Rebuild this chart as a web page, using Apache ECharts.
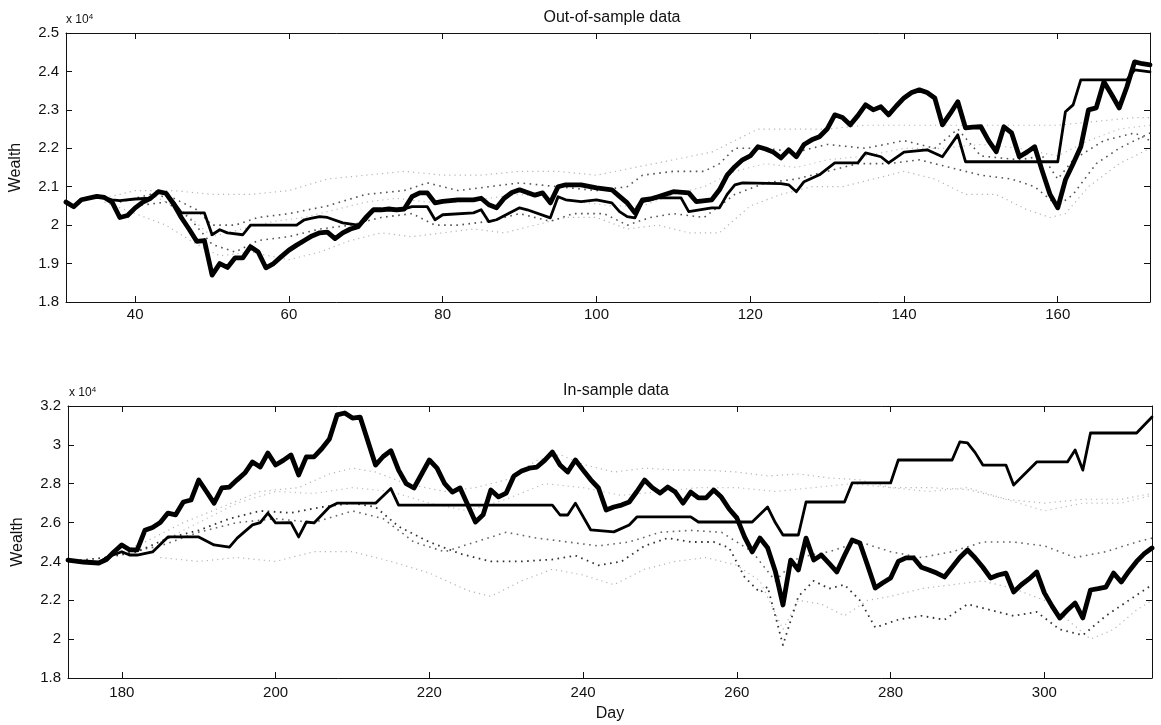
<!DOCTYPE html>
<html><head><meta charset="utf-8">
<script src="https://cdn.jsdelivr.net/npm/echarts@6/dist/echarts.min.js"></script>
<style>html,body{margin:0;padding:0;background:#fff}#c{width:1161px;height:725px}</style>
</head><body><div id="c"></div>
<script>
// Wealth in units of 10^4
const outTicks = [40, 60, 80, 100, 120, 140, 160];
const inTicks = [180, 200, 220, 240, 260, 280, 300];

const outThick = [[31,2.06],[32,2.048],[33,2.066],[35,2.075],[36,2.072],[37,2.06],[38,2.02],[39,2.025],[40,2.045],[41,2.06],[42,2.07],[43,2.087],[44,2.083],[45,2.055],[46,2.02],[47,1.99],[48,1.958],[49,1.96],[50,1.87],[51,1.9],[52,1.89],[53,1.915],[54,1.915],[55,1.944],[56,1.93],[57,1.889],[58,1.90],[59,1.918],[60,1.935],[61,1.948],[62,1.96],[63,1.972],[64,1.98],[65,1.982],[66,1.965],[67,1.98],[68,1.99],[69,1.996],[70,2.02],[71,2.04],[72,2.04],[73,2.042],[74,2.04],[75,2.042],[76,2.074],[77,2.084],[78,2.084],[79,2.058],[80,2.062],[82,2.066],[84,2.066],[85,2.07],[86,2.053],[87,2.045],[88,2.07],[89,2.085],[90,2.092],[91,2.085],[92,2.078],[93,2.084],[94,2.058],[95,2.1],[96,2.105],[98,2.105],[100,2.097],[102,2.092],[103,2.075],[104,2.058],[105,2.032],[106,2.066],[107,2.068],[108,2.074],[110,2.087],[112,2.084],[113,2.061],[115,2.066],[116,2.092],[117,2.13],[118,2.152],[119,2.17],[120,2.18],[121,2.204],[122,2.198],[123,2.19],[124,2.175],[125,2.196],[126,2.178],[127,2.21],[128,2.222],[129,2.23],[130,2.25],[131,2.287],[132,2.28],[133,2.261],[134,2.285],[135,2.313],[136,2.30],[137,2.308],[138,2.287],[139,2.31],[140,2.331],[141,2.345],[142,2.352],[143,2.345],[144,2.331],[145,2.261],[146,2.29],[147,2.321],[148,2.253],[149,2.255],[150,2.256],[151,2.22],[152,2.191],[153,2.256],[154,2.24],[155,2.178],[156,2.19],[157,2.204],[158,2.14],[159,2.08],[160,2.045],[161,2.118],[162,2.16],[163,2.204],[164,2.30],[165,2.305],[166,2.373],[167,2.34],[168,2.305],[169,2.36],[170,2.425],[171,2.42],[172,2.417]];

const outMedium = [[31,2.06],[32,2.048],[33,2.066],[35,2.075],[37,2.066],[38,2.064],[40,2.068],[42,2.07],[43,2.087],[44,2.083],[45,2.06],[46,2.032],[49,2.032],[50,1.975],[51,1.988],[52,1.98],[54,1.975],[55,2.0],[61,2.0],[62,2.014],[63,2.018],[64,2.022],[65,2.02],[67,2.006],[69,2.0],[70,2.014],[71,2.04],[75,2.042],[76,2.048],[78,2.048],[79,2.014],[80,2.027],[84,2.032],[85,2.04],[86,2.009],[87,2.014],[90,2.045],[91,2.04],[94,2.019],[95,2.074],[96,2.066],[98,2.061],[100,2.066],[102,2.058],[103,2.035],[104,2.022],[105,2.019],[106,2.061],[108,2.071],[111,2.071],[112,2.035],[115,2.045],[116,2.045],[117,2.08],[118,2.105],[119,2.11],[124,2.108],[125,2.105],[126,2.087],[127,2.113],[129,2.131],[131,2.162],[134,2.162],[135,2.188],[137,2.178],[138,2.162],[140,2.19],[143,2.196],[145,2.178],[147,2.235],[148,2.165],[160,2.165],[161,2.295],[162,2.313],[163,2.378],[169,2.378],[170,2.404],[172,2.399]];

const outDotA = [[36,2.07],[40,2.09],[45,2.09],[50,2.08],[55,2.08],[60,2.09],[65,2.12],[70,2.13],[75,2.14],[80,2.13],[85,2.13],[90,2.14],[95,2.14],[100,2.13],[105,2.15],[110,2.17],[115,2.19],[118,2.22],[121,2.25],[125,2.25],[130,2.25],[135,2.26],[140,2.26],[145,2.26],[150,2.26],[155,2.26],[160,2.26],[165,2.27],[170,2.28],[172,2.28]];
const outDotB = [[38,2.06],[42,2.08],[45,2.07],[48,2.04],[50,2.0],[53,2.0],[56,2.02],[60,2.03],[65,2.05],[70,2.08],[75,2.09],[78,2.11],[82,2.09],[86,2.1],[90,2.11],[95,2.1],[100,2.09],[104,2.1],[106,2.13],[110,2.14],[114,2.14],[116,2.16],[118,2.2],[122,2.2],[126,2.19],[130,2.21],[135,2.2],[140,2.22],[144,2.2],[147,2.25],[150,2.18],[155,2.17],[158,2.18],[160,2.12],[162,2.17],[166,2.22],[170,2.24],[172,2.22]];
const outDotC = [[36,2.06],[40,2.03],[44,2.0],[48,1.95],[51,1.92],[55,1.93],[60,1.91],[64,1.93],[68,1.96],[72,1.98],[76,1.97],[80,1.98],[84,1.99],[88,1.98],[92,2.0],[96,2.02],[100,2.02],[104,1.99],[108,2.0],[112,1.98],[116,1.98],[120,2.05],[124,2.08],[128,2.1],[132,2.1],[136,2.12],[140,2.14],[144,2.12],[148,2.08],[152,2.08],[156,2.04],[159,2.02],[161,2.03],[164,2.1],[168,2.16],[172,2.2]];
const outDotD = [[40,2.05],[44,2.06],[47,2.02],[50,1.95],[53,1.93],[56,1.96],[60,1.97],[64,1.99],[68,2.0],[72,2.02],[76,2.03],[79,2.0],[82,2.0],[86,2.01],[90,2.03],[94,2.01],[97,2.03],[101,2.03],[104,2.0],[107,2.02],[110,2.03],[114,2.02],[118,2.08],[122,2.11],[126,2.12],[130,2.14],[134,2.16],[138,2.16],[142,2.17],[146,2.15],[150,2.13],[154,2.12],[157,2.1],[160,2.05],[162,2.08],[165,2.16],[168,2.2],[172,2.24]];
const outDotE = [[42,2.08],[46,2.04],[50,1.97],[54,1.99],[58,2.01],[62,2.02],[66,2.04],[70,2.06],[74,2.07],[78,2.06],[82,2.06],[86,2.07],[90,2.08],[94,2.07],[98,2.06],[102,2.05],[106,2.05],[110,2.08],[114,2.1],[118,2.14],[122,2.16],[126,2.15],[130,2.17],[135,2.18],[140,2.2],[145,2.2],[150,2.21],[155,2.2],[160,2.18],[164,2.22],[168,2.25],[172,2.26]];

const inThick = [[173,2.407],[175,2.397],[177,2.392],[178,2.41],[179,2.45],[180,2.485],[181,2.46],[182,2.459],[183,2.56],[184,2.575],[185,2.6],[186,2.649],[187,2.64],[188,2.706],[189,2.716],[190,2.819],[191,2.76],[192,2.70],[193,2.778],[194,2.783],[195,2.82],[196,2.855],[197,2.912],[198,2.886],[199,2.958],[200,2.896],[201,2.92],[202,2.948],[203,2.845],[204,2.938],[205,2.938],[206,2.98],[207,3.03],[208,3.154],[209,3.164],[210,3.138],[211,3.143],[212,3.02],[213,2.896],[214,2.94],[215,2.97],[216,2.87],[217,2.80],[218,2.778],[219,2.85],[220,2.922],[221,2.88],[222,2.8],[223,2.757],[224,2.778],[225,2.69],[226,2.603],[227,2.64],[228,2.768],[229,2.732],[230,2.752],[231,2.84],[232,2.865],[233,2.88],[234,2.886],[235,2.92],[236,2.963],[237,2.896],[238,2.86],[239,2.922],[240,2.87],[241,2.82],[242,2.778],[243,2.665],[244,2.68],[245,2.69],[246,2.706],[247,2.76],[248,2.819],[249,2.78],[250,2.752],[251,2.783],[252,2.757],[253,2.70],[254,2.757],[255,2.727],[256,2.727],[257,2.768],[258,2.73],[259,2.67],[260,2.624],[261,2.526],[262,2.449],[263,2.52],[264,2.47],[265,2.35],[266,2.176],[267,2.407],[268,2.356],[269,2.52],[270,2.407],[271,2.433],[272,2.39],[273,2.346],[274,2.43],[275,2.51],[276,2.495],[277,2.38],[278,2.263],[279,2.29],[280,2.315],[281,2.4],[282,2.418],[283,2.418],[284,2.37],[285,2.356],[286,2.34],[287,2.32],[288,2.37],[289,2.42],[290,2.459],[291,2.418],[292,2.37],[293,2.315],[294,2.33],[295,2.34],[296,2.243],[297,2.28],[298,2.31],[299,2.346],[300,2.238],[301,2.17],[302,2.109],[303,2.15],[304,2.186],[305,2.109],[306,2.253],[307,2.26],[308,2.268],[309,2.34],[310,2.294],[311,2.35],[312,2.4],[313,2.44],[314,2.469]];

const inMedium = [[173,2.407],[175,2.397],[177,2.392],[178,2.42],[180,2.45],[181,2.433],[182,2.433],[184,2.449],[186,2.526],[190,2.526],[192,2.485],[194,2.474],[195,2.52],[197,2.588],[198,2.6],[199,2.649],[200,2.598],[202,2.6],[203,2.526],[204,2.603],[205,2.598],[207,2.68],[208,2.70],[213,2.70],[215,2.775],[216,2.69],[236,2.69],[237,2.639],[238,2.639],[239,2.70],[241,2.562],[244,2.552],[246,2.588],[247,2.629],[254,2.629],[255,2.603],[262,2.603],[264,2.68],[265,2.6],[266,2.536],[268,2.536],[269,2.706],[274,2.706],[275,2.804],[280,2.804],[281,2.922],[288,2.922],[289,3.015],[290,3.01],[291,2.96],[292,2.896],[295,2.896],[296,2.793],[299,2.912],[303,2.912],[304,2.974],[305,2.87],[306,3.061],[312,3.061],[314,3.143]];

const inDotA = [[173,2.40],[178,2.42],[182,2.45],[186,2.52],[190,2.56],[194,2.62],[198,2.66],[202,2.65],[206,2.68],[210,2.7],[213,2.68],[216,2.58],[220,2.5],[224,2.44],[228,2.40],[232,2.40],[236,2.41],[239,2.43],[242,2.38],[245,2.40],[248,2.48],[251,2.52],[254,2.50],[257,2.50],[259,2.47],[261,2.32],[263,2.24],[264,2.27],[266,1.97],[268,2.22],[270,2.30],[272,2.26],[274,2.28],[276,2.2],[278,2.06],[281,2.1],[284,2.12],[287,2.1],[290,2.18],[293,2.15],[296,2.12],[299,2.14],[302,2.05],[305,2.02],[308,2.12],[311,2.2],[314,2.28]];
const inDotB = [[178,2.42],[183,2.5],[188,2.6],[193,2.68],[198,2.76],[203,2.78],[207,2.85],[210,2.88],[213,2.86],[217,2.8],[222,2.76],[226,2.78],[230,2.82],[234,2.92],[237,2.95],[240,2.9],[244,2.86],[248,2.88],[252,2.87],[256,2.87],[260,2.86],[264,2.84],[268,2.85],[272,2.83],[276,2.82],[280,2.78],[285,2.78],[290,2.77],[295,2.72],[300,2.7],[305,2.72],[310,2.72],[314,2.75]];
const inDotC = [[185,2.5],[190,2.6],[195,2.7],[200,2.76],[205,2.75],[210,2.78],[215,2.76],[220,2.7],[225,2.66],[230,2.72],[235,2.8],[240,2.78],[245,2.74],[250,2.76],[255,2.78],[260,2.78],[265,2.76],[270,2.78],[275,2.8],[280,2.78],[285,2.76],[290,2.78],[295,2.72],[300,2.66],[305,2.7],[310,2.7],[314,2.74]];
const inDotD = [[180,2.44],[185,2.48],[190,2.55],[195,2.6],[200,2.62],[205,2.6],[210,2.66],[214,2.62],[218,2.5],[222,2.45],[226,2.5],[230,2.55],[234,2.52],[238,2.5],[242,2.48],[246,2.5],[250,2.55],[254,2.56],[258,2.55],[262,2.45],[265,2.3],[268,2.42],[272,2.45],[276,2.5],[280,2.45],[284,2.42],[288,2.45],[292,2.5],[296,2.5],[300,2.48],[304,2.42],[308,2.45],[312,2.5],[314,2.52]];
const inDotE = [[185,2.42],[190,2.4],[195,2.42],[200,2.4],[205,2.45],[210,2.45],[215,2.4],[220,2.34],[225,2.25],[228,2.22],[232,2.3],[236,2.36],[240,2.33],[244,2.28],[248,2.36],[252,2.4],[256,2.42],[260,2.38],[263,2.3],[266,2.05],[268,2.2],[271,2.18],[274,2.12],[277,2.2],[280,2.22],[284,2.26],[288,2.28],[292,2.3],[296,2.26],[300,2.2],[303,2.1],[306,2.0],[309,2.05],[312,2.15],[314,2.2]];

const FONT = 'Liberation Sans';
const chart = echarts.init(document.getElementById('c'));
const txt = {color:'#111', fontFamily:FONT, fontSize:15};
function fmt(v){ return String(+(+v).toFixed(1)); }
function xAx(grid, min, max, ticks, pos, show){
  return {type:'value', gridIndex:grid, position:pos, min:min, max:max,
    axisLine:{show:true, onZero:false, lineStyle:{color:'#111', width:1}},
    axisTick:{show:true, inside:true, length:6, customValues:ticks, lineStyle:{color:'#111'}},
    axisLabel:{show:show, customValues:ticks, margin: grid===0?5:7, ...txt},
    splitLine:{show:false}};
}
function yAx(grid, min, max, step, pos, show){
  return {type:'value', gridIndex:grid, position:pos, min:min, max:max, interval:step,
    axisLine:{show:true, onZero:false, lineStyle:{color:'#111', width:1}},
    axisTick:{show:true, inside:true, length:6, lineStyle:{color:'#111'}},
    axisLabel:{show:show, margin:7, formatter:fmt, ...txt},
    splitLine:{show:false},
    name: show ? 'Wealth' : '', nameLocation:'middle', nameGap: 42, nameRotate:90,
    nameTextStyle:{color:'#111', fontFamily:FONT, fontSize:16}};
}
function line(data, xi, yi, w, color, dash){
  return {type:'line', data:data, xAxisIndex:xi, yAxisIndex:yi, symbol:'none', silent:true,
    lineStyle:{width:w, color:color, type: dash || 'solid', cap: dash ? 'butt' : 'round', join:'round'}, z: dash?2:3};
}
const dotBlack = [1.6, 4.5];
const dotGrey = [1.2, 4];
chart.setOption({
  animation:false,
  backgroundColor:'#fff',
  title:[
    {text:'Out-of-sample data', left:607, top:5, textAlign:'center', textStyle:{color:'#111', fontFamily:FONT, fontSize:16, fontWeight:'normal'}},
    {text:'In-sample data', left:611, top:378, textAlign:'center', textStyle:{color:'#111', fontFamily:FONT, fontSize:16, fontWeight:'normal'}}
  ],
  graphic:[
    {type:'text', left:66, top:13, style:{text:'x 10{s|4}', fill:'#111', font:'12px Liberation Sans', rich:{s:{fontSize:8, verticalAlign:'top', padding:[0,0,6,0]}}}},
    {type:'text', left:69, top:386, style:{text:'x 10{s|4}', fill:'#111', font:'12px Liberation Sans', rich:{s:{fontSize:8, verticalAlign:'top', padding:[0,0,6,0]}}}}
  ],
  grid:[
    {left:65, top:33, width:1085, height:269},
    {left:68, top:406, width:1084, height:272}
  ],
  xAxis:[
    xAx(0, 31, 172, outTicks, 'bottom', true),
    xAx(0, 31, 172, outTicks, 'top', false),
    Object.assign(xAx(1, 173, 314, inTicks, 'bottom', true), {name:'Day', nameLocation:'middle', nameGap:28, nameTextStyle:{color:'#111', fontFamily:FONT, fontSize:16}}),
    xAx(1, 173, 314, inTicks, 'top', false)
  ],
  yAxis:[
    yAx(0, 1.8, 2.5, 0.1, 'left', true),
    yAx(0, 1.8, 2.5, 0.1, 'right', false),
    yAx(1, 1.8, 3.2, 0.2, 'left', true),
    yAx(1, 1.8, 3.2, 0.2, 'right', false)
  ],
  series:[
    line(outDotA, 0, 0, 1.2, '#b4b4b4', dotGrey),
    line(outDotC, 0, 0, 1.2, '#b4b4b4', dotGrey),
    line(outDotE, 0, 0, 1.2, '#bdbdbd', dotGrey),
    line(outDotB, 0, 0, 1.6, '#555', dotBlack),
    line(outDotD, 0, 0, 1.6, '#555', dotBlack),
    line(outMedium, 0, 0, 2.8, '#000'),
    line(outThick, 0, 0, 4.8, '#000'),
    line(inDotB, 2, 2, 1.2, '#b4b4b4', dotGrey),
    line(inDotC, 2, 2, 1.2, '#bdbdbd', dotGrey),
    line(inDotE, 2, 2, 1.2, '#b4b4b4', dotGrey),
    line(inDotD, 2, 2, 1.6, '#666', dotBlack),
    line(inDotA, 2, 2, 1.8, '#333', dotBlack),
    line(inMedium, 2, 2, 2.8, '#000'),
    line(inThick, 2, 2, 4.8, '#000')
  ]
});
</script></body></html>
